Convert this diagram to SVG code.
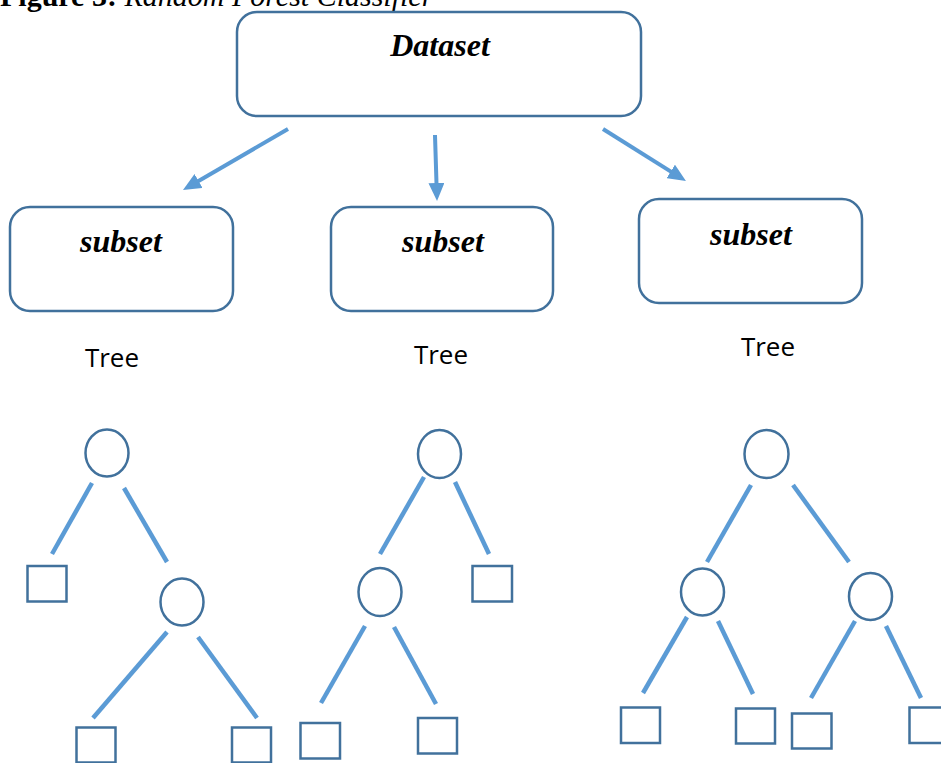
<svg xmlns="http://www.w3.org/2000/svg" width="941" height="763" viewBox="0 0 941 763">
<style>
.box{fill:#fff;stroke:#41719C;stroke-width:2.5}
.node{fill:#fff;stroke:#41719C;stroke-width:2.5}
.leaf{fill:#fff;stroke:#41719C;stroke-width:2.5}
.edge{stroke:#5B9BD5;stroke-width:4.5;fill:none}
.arrow{stroke:#5B9BD5;stroke-width:4;fill:none;marker-end:url(#ah)}
.bi{font-family:"Liberation Serif","Times New Roman",serif;font-weight:bold;font-style:italic;font-size:32px;text-anchor:middle;fill:#000}
.lbl{font-family:"Open Sans","Noto Sans",sans-serif;font-size:26px;text-anchor:middle;fill:#000}
.title{font-family:"Liberation Serif","Times New Roman",serif;font-size:30px;fill:#000}
</style>
<defs>
<marker id="ah" viewBox="0 0 18 16" refX="4" refY="8" markerWidth="18" markerHeight="16" markerUnits="userSpaceOnUse" orient="auto">
<path d="M0,0 L18,8 L0,16 z" fill="#5B9BD5"/>
</marker>
</defs>
<rect width="941" height="763" fill="#fff"/>
<text class="title" x="0" y="6"><tspan font-weight="bold">Figure 3:</tspan> <tspan font-style="italic">Random Forest Classifier</tspan></text>

<g id="dataset">
<rect class="box" x="237" y="12" width="404" height="104" rx="20"/>
<text class="bi" x="440" y="56">Dataset</text>
</g>
<g id="subset1">
<rect class="box" x="10" y="207" width="223" height="104" rx="20"/>
<text class="bi" x="121" y="252">subset</text>
</g>
<g id="subset2">
<rect class="box" x="331" y="207" width="222" height="104" rx="20"/>
<text class="bi" x="443" y="252">subset</text>
</g>
<g id="subset3">
<rect class="box" x="639" y="199" width="223" height="104" rx="20"/>
<text class="bi" x="751" y="245">subset</text>
</g>
<g id="label-tree1"><text class="lbl" x="112" y="367">Tree</text></g>
<g id="label-tree2"><text class="lbl" x="441" y="364">Tree</text></g>
<g id="label-tree3"><text class="lbl" x="768" y="356">Tree</text></g>

<g id="connectors">
<line class="arrow" x1="288" y1="129" x2="195.1" y2="183"/>
<line class="arrow" x1="435" y1="135" x2="436.6" y2="187"/>
<line class="arrow" x1="603" y1="129" x2="674.1" y2="173.6"/>
<!-- tree 1 -->
<line class="edge" x1="92" y1="483" x2="52" y2="554"/>
<line class="edge" x1="124" y1="488" x2="167" y2="562"/>
<line class="edge" x1="167" y1="632" x2="93" y2="718"/>
<line class="edge" x1="198" y1="637" x2="257" y2="718"/>
<!-- tree 2 -->
<line class="edge" x1="424" y1="477" x2="380" y2="554"/>
<line class="edge" x1="455" y1="482" x2="489" y2="554"/>
<line class="edge" x1="365" y1="626" x2="321" y2="703"/>
<line class="edge" x1="394" y1="627" x2="436" y2="704"/>
<!-- tree 3 -->
<line class="edge" x1="751" y1="485" x2="707" y2="562"/>
<line class="edge" x1="793" y1="485" x2="849" y2="562"/>
<line class="edge" x1="687" y1="617" x2="643" y2="693"/>
<line class="edge" x1="718" y1="621" x2="753" y2="694"/>
<line class="edge" x1="855" y1="621" x2="811" y2="698"/>
<line class="edge" x1="886" y1="626" x2="921" y2="698"/>
</g>

<g id="t1-root"><ellipse class="node" cx="107" cy="453" rx="21.5" ry="23.5"/></g>
<g id="t1-leaf1"><rect class="leaf" x="27.5" y="566" width="39" height="35.5"/></g>
<g id="t1-node2"><ellipse class="node" cx="182" cy="602" rx="21.5" ry="23.5"/></g>
<g id="t1-leaf2"><rect class="leaf" x="76.5" y="727.5" width="39" height="35"/></g>
<g id="t1-leaf3"><rect class="leaf" x="232" y="727.5" width="39" height="35"/></g>

<g id="t2-root"><ellipse class="node" cx="439.5" cy="454" rx="21.5" ry="24"/></g>
<g id="t2-leaf1"><rect class="leaf" x="472.5" y="566" width="39.5" height="35.5"/></g>
<g id="t2-node2"><ellipse class="node" cx="380" cy="592" rx="21.5" ry="24"/></g>
<g id="t2-leaf2"><rect class="leaf" x="300.5" y="723" width="39.5" height="35.5"/></g>
<g id="t2-leaf3"><rect class="leaf" x="418" y="718" width="39" height="35.5"/></g>

<g id="t3-root"><ellipse class="node" cx="766.5" cy="454" rx="22" ry="24"/></g>
<g id="t3-node2"><ellipse class="node" cx="702.5" cy="592" rx="21.5" ry="23.5"/></g>
<g id="t3-node3"><ellipse class="node" cx="870.5" cy="596.5" rx="21.5" ry="23.5"/></g>
<g id="t3-leaf1"><rect class="leaf" x="621" y="707.5" width="39" height="35.5"/></g>
<g id="t3-leaf2"><rect class="leaf" x="736" y="708.5" width="39" height="35"/></g>
<g id="t3-leaf3"><rect class="leaf" x="792" y="713.5" width="39.5" height="35"/></g>
<g id="t3-leaf4"><rect class="leaf" x="909.5" y="707.5" width="40" height="35.5"/></g>
</svg>
